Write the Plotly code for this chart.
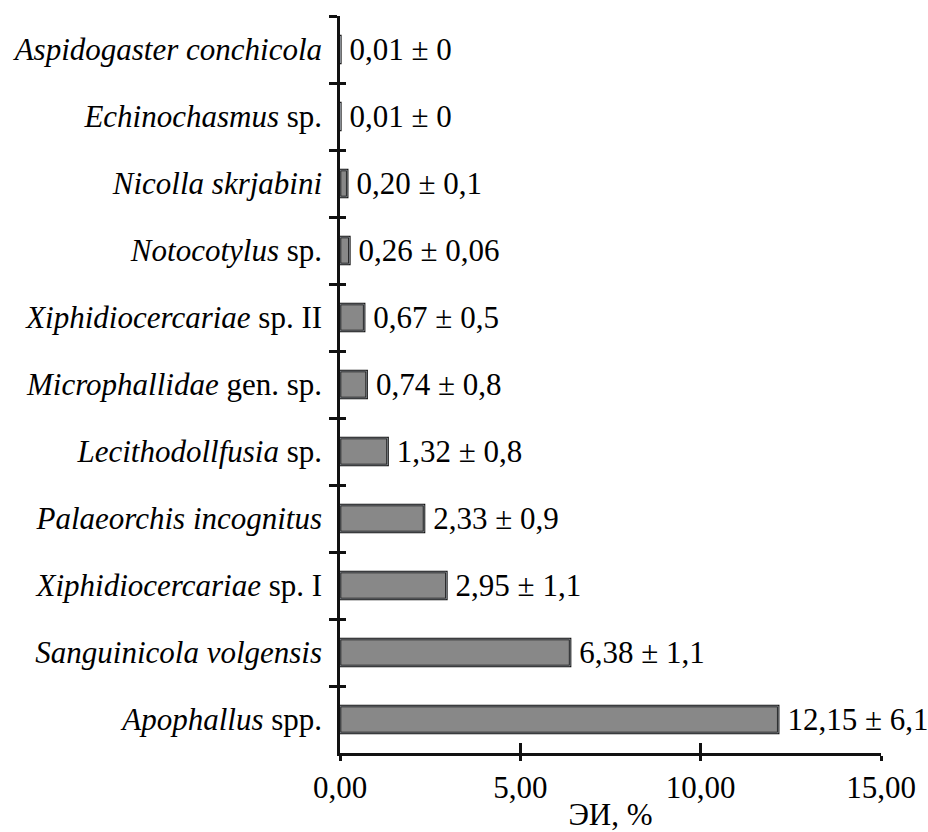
import plotly.graph_objects as go

labels = [
    "<i>Aspidogaster conchicola</i>",
    "<i>Echinochasmus</i> sp.",
    "<i>Nicolla skrjabini</i>",
    "<i>Notocotylus</i> sp.",
    "<i>Xiphidiocercariae</i> sp. II",
    "<i>Microphallidae</i> gen. sp.",
    "<i>Lecithodollfusia</i> sp.",
    "<i>Palaeorchis incognitus</i>",
    "<i>Xiphidiocercariae</i> sp. I",
    "<i>Sanguinicola volgensis</i>",
    "<i>Apophallus</i> spp.",
]
values = [0.01, 0.01, 0.20, 0.26, 0.67, 0.74, 1.32, 2.33, 2.95, 6.38, 12.15]
errors = ["0", "0", "0,1", "0,06", "0,5", "0,8", "0,8", "0,9", "1,1", "1,1", "6,1"]
tick_vals = [0, 5, 10, 15]
tick_text = ["0,00", "5,00", "10,00", "15,00"]

texts = ["\u2009" + f"{v:.2f}".replace(".", ",") + " \u00b1 " + e for v, e in zip(values, errors)]

FONT = "Liberation Serif"
FS = 31

fig = go.Figure()
fig.add_trace(go.Bar(
    x=values, y=labels, orientation="h",
    marker=dict(color="#888888", line=dict(color="#111111", width=2.5)),
    width=0.4,
    text=texts, textposition="outside", cliponaxis=False, constraintext="none",
    textfont=dict(family=FONT, size=FS, color="black"),
    hoverinfo="skip",
))
# invisible copy for the inner halves of the crossing ticks
fig.add_trace(go.Bar(
    x=values, y=labels, orientation="h", xaxis="x2", yaxis="y2",
    marker=dict(color="rgba(0,0,0,0)"), width=0.4, hoverinfo="skip", showlegend=False,
))

fig.update_layout(
    width=928, height=832,
    margin=dict(l=340, r=47, t=16, b=79),
    paper_bgcolor="white", plot_bgcolor="white",
    showlegend=False,
    font=dict(family=FONT, size=FS, color="black"),
    xaxis=dict(
        range=[0, 15], tickvals=tick_vals, ticktext=tick_text,
        showgrid=False, zeroline=False, automargin=False,
        showline=True, linecolor="#111111", linewidth=2.5,
        ticks="outside", ticklen=5, tickwidth=2.5, tickcolor="#111111",
        ticklabelstandoff=0,
        title=dict(text="ЭИ, %", standoff=10, font=dict(size=FS)),
        tickfont=dict(size=FS),
    ),
    xaxis2=dict(
        range=[0, 15], tickvals=tick_vals, overlaying="x", side="bottom",
        showgrid=False, zeroline=False, showline=False, showticklabels=False,
        ticks="inside", ticklen=10, tickwidth=2.5, tickcolor="#111111",
    ),
    yaxis=dict(
        type="category", categoryorder="array", categoryarray=labels,
        autorange="reversed", automargin=False,
        showgrid=False, zeroline=False,
        showline=True, linecolor="#111111", linewidth=2.5,
        ticks="outside", ticklen=8, tickwidth=2.5, tickcolor="#111111",
        tickson="boundaries", ticklabelstandoff=9,
        tickfont=dict(size=FS),
    ),
    yaxis2=dict(
        type="category", categoryorder="array", categoryarray=labels,
        autorange="reversed", overlaying="y", side="left",
        showgrid=False, zeroline=False, showline=False, showticklabels=False,
        ticks="inside", ticklen=6, tickwidth=2.5, tickcolor="#111111",
        tickson="boundaries",
    ),
)

fig.write_html("out.html")
